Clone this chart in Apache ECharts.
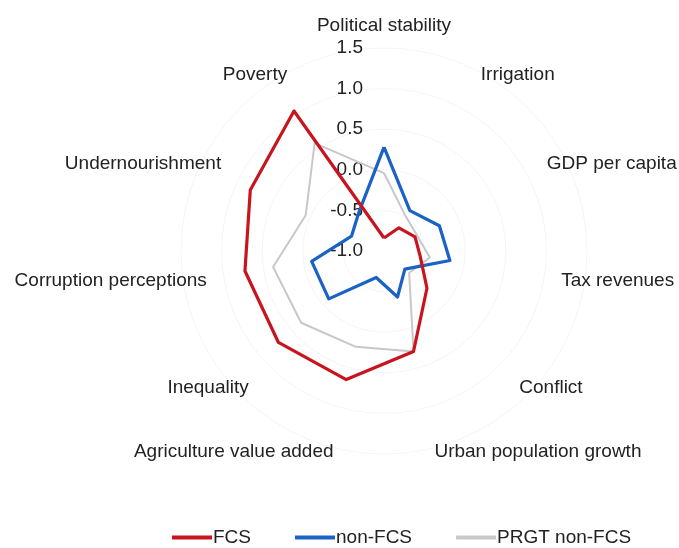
<!DOCTYPE html>
<html><head><meta charset="utf-8">
<script src="https://cdn.jsdelivr.net/npm/echarts@6/dist/echarts.min.js"></script>
<style>html,body{margin:0;padding:0;background:#fff}#c{width:679px;height:548px}</style>
</head><body><div id="c"></div>
<script>
// Categories listed clockwise from the top
const categories = ['Political stability','Irrigation','GDP per capita','Tax revenues','Conflict','Urban population growth','Agriculture value added','Inequality','Corruption perceptions','Undernourishment','Poverty'];
const fcs        = [-0.84,-0.66,-0.58,-0.55,-0.30, 0.29, 0.65, 0.72, 0.73, 0.81, 1.05];
const nonFcs     = [ 0.28,-0.41,-0.25,-0.18,-0.66,-0.41,-0.66,-0.10,-0.10,-0.56,-0.43];
const prgtNonFcs = [-0.04,-0.50,-0.55,-0.43,-0.59, 0.29, 0.23, 0.35, 0.38, 0.06, 0.58];
const tickLabels = ['-1.0','-0.5','0.0','0.5','1.0','1.5'];
const seriesNames = ['FCS','non-FCS','PRGT non-FCS'];
const axisMin = -1, axisMax = 1.5, axisStep = 0.5;

const N = categories.length;
// ECharts radar runs counter-clockwise: reorder so the chart reads clockwise
const order = categories.map((_, j) => j === 0 ? 0 : N - j);
const reorder = arr => order.map(i => arr[i]);
const FONT = '"Liberation Sans", Arial, sans-serif';
const TXT = '#222';

const rich = {};
const nameIdx = {};
order.forEach((orig, j) => {
  const c = Math.cos(2 * Math.PI * orig / N);
  let pt = 0, pb = 0;
  if (orig === 0) pb = 37; else if (c > 0) pb = 60 * c; else pt = -60 * c;
  rich['n' + j] = { padding: [pt, 0, pb, 0], fontSize: 19, color: TXT, fontFamily: FONT };
  nameIdx[categories[orig]] = j;
});

const chart = echarts.init(document.getElementById('c'), null, { renderer: 'canvas' });
chart.setOption({
  animation: false,
  backgroundColor: '#fff',
  textStyle: { fontFamily: FONT },
  legend: {
    data: seriesNames,
    left: 172, top: 528, padding: 0,
    icon: 'rect', itemWidth: 40, itemHeight: 4, itemGap: 44,
    textStyle: { fontSize: 19, color: TXT, fontFamily: FONT, padding: [0, 0, 0, -4] }
  },
  radar: {
    center: [384, 251], radius: 203, startAngle: 90, shape: 'circle', splitNumber: 5,
    indicator: order.map(i => ({ name: categories[i], min: axisMin, max: axisMax })),
    nameGap: -24,
    axisName: {
      color: TXT, fontSize: 19, fontFamily: FONT, rich: rich,
      formatter: (name) => '{n' + nameIdx[name] + '|' + name + '}'
    },
    axisLine: { show: false }, axisTick: { show: false }, axisLabel: { show: false },
    splitLine: { lineStyle: { color: '#f5f5f5', width: 1 } },
    splitArea: { show: false }
  },
  polar: { center: [384, 251], radius: 203 },
  angleAxis: { type: 'value', show: false, startAngle: 90, min: 0, max: 360 },
  radiusAxis: {
    type: 'value', min: axisMin, max: axisMax, interval: axisStep,
    axisLine: { show: false }, axisTick: { show: false }, splitLine: { show: false },
    axisLabel: {
      margin: 21, fontSize: 19, color: TXT, fontFamily: FONT,
      formatter: v => tickLabels[Math.round((v - axisMin) / axisStep)]
    }
  },
  series: [{
    type: 'radar', symbol: 'none', z: 3,
    data: [
      { name: seriesNames[2], value: reorder(prgtNonFcs), lineStyle: { color: '#c8c8c8', width: 2 }, itemStyle: { color: '#c8c8c8' } },
      { name: seriesNames[1], value: reorder(nonFcs), lineStyle: { color: '#1a62c6', width: 3.2 }, itemStyle: { color: '#1a62c6' } },
      { name: seriesNames[0], value: reorder(fcs), lineStyle: { color: '#c8141e', width: 3.2 }, itemStyle: { color: '#c8141e' } }
    ]
  }]
});
</script></body></html>
